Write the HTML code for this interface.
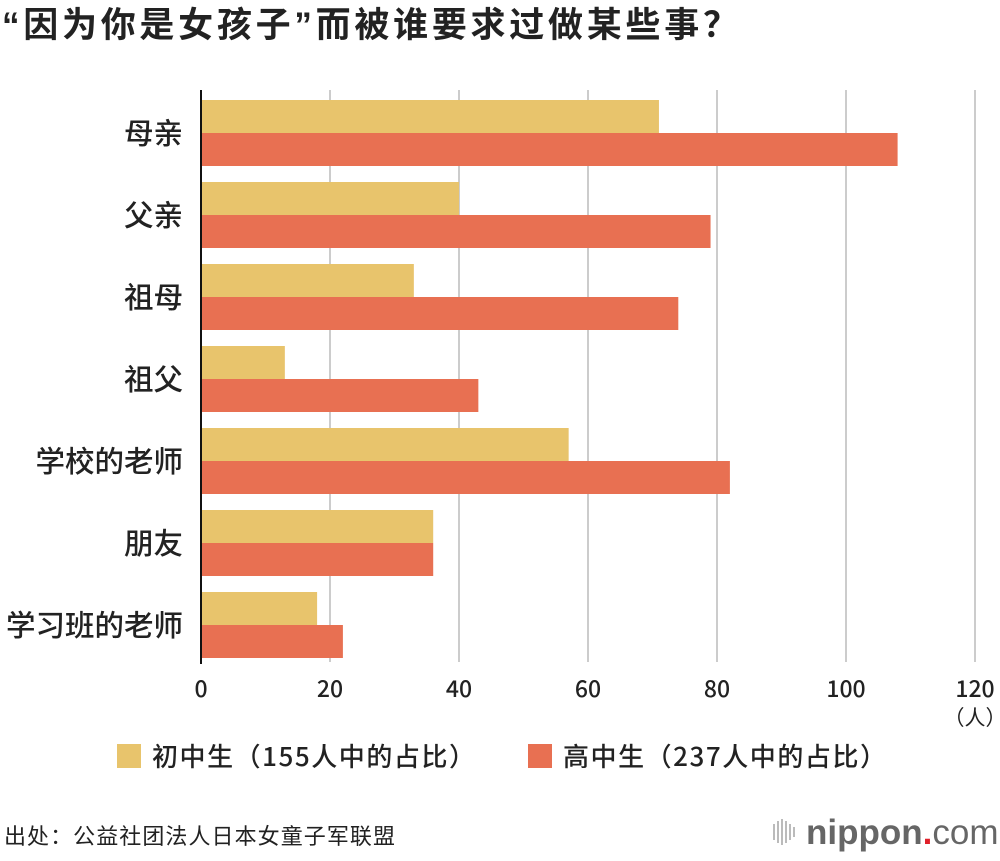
<!DOCTYPE html>
<html><head><meta charset="utf-8"><style>
body{margin:0;width:1000px;height:856px;background:#fff;overflow:hidden;}
</style></head><body>
<svg id="c" width="1000" height="856" xmlns="http://www.w3.org/2000/svg" style="font-family:'Noto Sans CJK SC','Liberation Sans',sans-serif">
<text x="2" y="37" font-size="35" font-weight="bold" fill="#222" textLength="736"><tspan font-family="Liberation Sans">“</tspan>因为你是女孩子<tspan font-family="Liberation Sans">”</tspan>而被谁要求过做某些事？</text>
<g id="grid"></g><g id="bars"></g><g id="labels"></g>
<text x="975" y="725" font-size="21" text-anchor="middle" fill="#222">（人）</text>
<g>
<rect x="117" y="744" width="24" height="24" fill="#E8C46C"/>
<text x="152" y="766" font-size="26" font-weight="500" fill="#222" textLength="323">初中生（155人中的占比）</text>
<rect x="528" y="744" width="24" height="24" fill="#E87052"/>
<text x="563" y="766" font-size="26" font-weight="500" fill="#222" textLength="323">高中生（237人中的占比）</text>
</g>
<text x="4" y="844" font-size="22" fill="#222" textLength="391">出处：公益社团法人日本女童子军联盟</text>
<g>
<g fill="#bbb"><rect x="773" y="824" width="2" height="16"/><rect x="777" y="821" width="2" height="22"/><rect x="781" y="819" width="2" height="26"/><rect x="785" y="821" width="2" height="22"/><rect x="789" y="824" width="2" height="16"/><rect x="793" y="827" width="2" height="10"/></g>
<text x="806" y="844" font-size="35" font-weight="bold" fill="#666" font-family="Liberation Sans,sans-serif">nippon<tspan fill="#e0202a">.</tspan><tspan font-weight="normal">com</tspan></text>
</g>
</svg>
<script>
const categories=["母亲","父亲","祖母","祖父","学校的老师","朋友","学习班的老师"];
const juniorValues=[71,40,33,13,57,36,18];
const seniorValues=[108,79,74,43,82,36,22];
const tickLabels=[0,20,40,60,80,100,120];
const NS="http://www.w3.org/2000/svg";
const x=v=>201+v*(774/120);
const yTop=i=>100+i*82;
function mk(t,a,p){const e=document.createElementNS(NS,t);for(const k in a)e.setAttribute(k,a[k]);p.appendChild(e);return e;}
const grid=document.getElementById('grid'),bars=document.getElementById('bars'),labels=document.getElementById('labels');
tickLabels.forEach(v=>{
 if(v>0){const l=mk('line',{x1:x(v),x2:x(v),y1:90,y2:662,stroke:'#ccc','stroke-width':2},grid);
 
 }
 const t=mk('text',{x:x(v),y:697,'font-size':23,'font-weight':500,'text-anchor':'middle',fill:'#222'},labels);
 t.textContent=v;
 
 
});
categories.forEach((c,i)=>{
 const a=mk('rect',{x:x(0),y:yTop(i),width:x(juniorValues[i])-x(0),height:33,fill:'#E8C46C'},bars);
 
 
 const b=mk('rect',{x:x(0),y:yTop(i)+33,width:x(seniorValues[i])-x(0),height:33,fill:'#E87052'},bars);
 
 
 const t=mk('text',{x:183,y:yTop(i)+44,'font-size':29.5,'font-weight':500,'text-anchor':'end',fill:'#222'},labels);
 t.textContent=c;
 
 
});
const ax=mk('line',{x1:201,x2:201,y1:90,y2:664,stroke:'#111','stroke-width':2},bars);


</script>
</body></html>
